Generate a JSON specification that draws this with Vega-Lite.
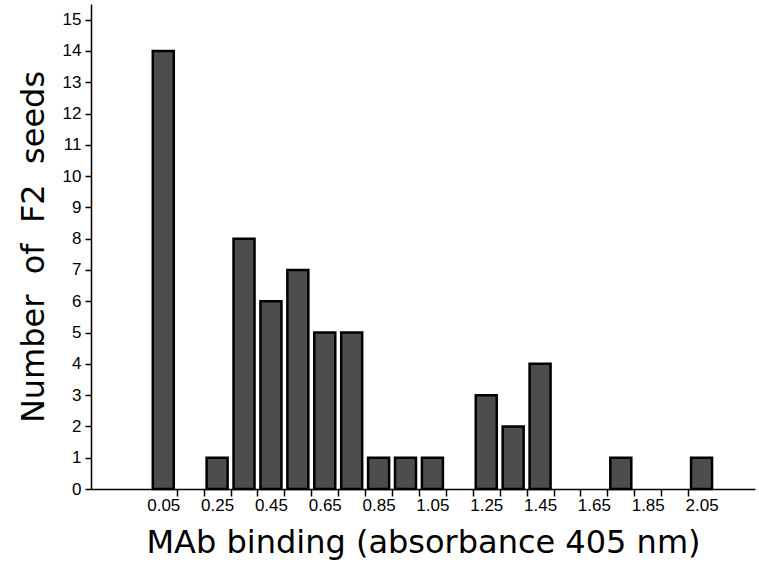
{
  "$schema": "https://vega.github.io/schema/vega-lite/v6.json",
  "width": 664,
  "height": 485,
  "autosize": "none",
  "padding": {"left": 91, "top": 4, "right": 4, "bottom": 83},
  "background": "white",
  "config": {"view": {"stroke": null}},
  "data": {
    "values": [
      {"absorbance": 0.05, "seeds": 14},
      {"absorbance": 0.25, "seeds": 1},
      {"absorbance": 0.35, "seeds": 8},
      {"absorbance": 0.45, "seeds": 6},
      {"absorbance": 0.55, "seeds": 7},
      {"absorbance": 0.65, "seeds": 5},
      {"absorbance": 0.75, "seeds": 5},
      {"absorbance": 0.85, "seeds": 1},
      {"absorbance": 0.95, "seeds": 1},
      {"absorbance": 1.05, "seeds": 1},
      {"absorbance": 1.25, "seeds": 3},
      {"absorbance": 1.35, "seeds": 2},
      {"absorbance": 1.45, "seeds": 4},
      {"absorbance": 1.75, "seeds": 1},
      {"absorbance": 2.05, "seeds": 1}
    ]
  },
  "layer": [
    {
      "mark": {"type": "bar", "width": 21, "fill": "#4d4d4d", "stroke": "#000000", "strokeWidth": 2.5},
      "encoding": {
        "x": {
          "field": "absorbance", "type": "quantitative",
          "scale": {"domain": [-0.2, 2.23], "nice": false, "zero": false},
          "axis": {
            "orient": "bottom",
            "values": [0.1, 0.2, 0.3, 0.4, 0.5, 0.6, 0.7, 0.8, 0.9, 1.0, 1.1, 1.2, 1.3, 1.4, 1.5, 1.6, 1.7, 1.8, 1.9, 2.0],
            "labels": false, "title": null, "grid": false,
            "tickSize": 7, "tickWidth": 1.5, "tickColor": "black",
            "domainColor": "black", "domainWidth": 1.5
          }
        },
        "y": {
          "field": "seeds", "type": "quantitative",
          "scale": {"domain": [0, 15.5], "nice": false},
          "axis": {
            "values": [0, 1, 2, 3, 4, 5, 6, 7, 8, 9, 10, 11, 12, 13, 14, 15],
            "labelOverlap": false,
            "grid": false, "tickSize": 6, "tickWidth": 1.5, "tickColor": "black",
            "domainColor": "black", "domainWidth": 1.5,
            "labelFont": "Liberation Sans", "labelFontSize": 17, "labelColor": "black", "labelPadding": 4,
            "title": "Number\u00a0 of\u00a0 F2\u00a0 seeds", "titleFont": "DejaVu Sans", "titleFontWeight": "normal",
            "titleFontSize": 32, "titleColor": "black", "titlePadding": 12
          }
        }
      }
    },
    {
      "mark": {"type": "point", "opacity": 0},
      "encoding": {
        "x": {
          "field": "absorbance", "type": "quantitative",
          "axis": {
            "orient": "bottom",
            "values": [0.05, 0.25, 0.45, 0.65, 0.85, 1.05, 1.25, 1.45, 1.65, 1.85, 2.05],
            "format": ".2f", "labelOverlap": false,
            "ticks": false, "domain": false, "grid": false,
            "labelFont": "Liberation Sans", "labelFontSize": 17, "labelColor": "black", "labelPadding": 8,
            "title": "MAb binding (absorbance 405 nm)", "titleFont": "DejaVu Sans", "titleFontWeight": "normal",
            "titleFontSize": 32, "titleColor": "black", "titlePadding": 14
          }
        }
      }
    }
  ],
  "resolve": {"axis": {"x": "independent"}}
}
